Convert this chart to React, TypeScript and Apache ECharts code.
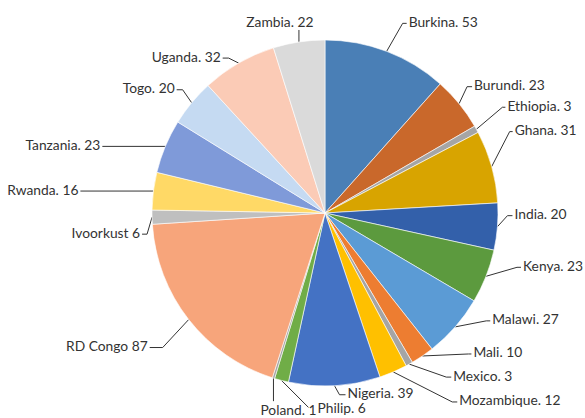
import React, { useEffect, useRef } from "react";
import * as echarts from "echarts";

const countries = [
  "Burkina", "Burundi", "Ethiopia", "Ghana", "India", "Kenya", "Malawi", "Mali",
  "Mexico", "Mozambique", "Nigeria", "Philip.", "Poland", "RD Congo", "Ivoorkust",
  "Rwanda", "Tanzania", "Togo", "Uganda", "Zambia",
];
const values = [53, 23, 3, 31, 20, 23, 27, 10, 3, 12, 39, 6, 1, 87, 6, 16, 23, 20, 32, 22];
const labels = [
  "Burkina. 53", "Burundi. 23", "Ethiopia. 3", "Ghana. 31", "India. 20", "Kenya. 23",
  "Malawi. 27", "Mali. 10", "Mexico. 3", "Mozambique. 12", "Nigeria. 39", "Philip. 6",
  "Poland. 1", "RD Congo 87", "Ivoorkust 6", "Rwanda. 16", "Tanzania. 23", "Togo. 20",
  "Uganda. 32", "Zambia. 22",
];
const colors = [
  "#4a7fb6", "#c9682b", "#a5a5a5", "#d8a400", "#3360aa", "#5c9a3e", "#5b9bd5", "#ed7d31",
  "#a5a5a5", "#ffc000", "#4472c4", "#70ad47", "#a5a5a5", "#f7a57b", "#bfbfbf",
  "#ffd966", "#7f9ad9", "#c5daf2", "#fbcbb6", "#dadada",
];

// leader line styling: offset of the elbow from the slice edge [dx, dy], then horizontal length
const leaderStyle: Record<string, [number, number, number]> = {
  Burkina: [16, -28, 4],
  Burundi: [8, -17, 5],
  Ethiopia: [26, -22, 3],
  Ghana: [18, -35, 3],
  India: [10, -11, 5],
  Kenya: [31, -9, 4],
  Malawi: [31, -6, 4],
  Mali: [46, -2, 3],
  Mexico: [37, 13, 5],
  Mozambique: [59, 30, 5],
  Nigeria: [5, 9, 6],
  "Philip.": [27, 27, 0],
  Poland: [0, 23, 0],
  "RD Congo": [-26, 28, 13],
  Ivoorkust: [-5, 17, 5],
  Rwanda: [0, 0, 73],
  Tanzania: [0, 0, 63],
  Togo: [-9, -13, 6],
  Uganda: [-10, -5, 6],
  Zambia: [0, -12, 0],
};

export default function App() {
  const ref = useRef<HTMLDivElement>(null);
  useEffect(() => {
    if (!ref.current) return;
    const chart = echarts.init(ref.current, undefined, { renderer: "svg" });
    const cx = 325;
    chart.setOption({
      animation: false,
      backgroundColor: "#ffffff",
      series: [
        {
          type: "pie",
          center: [cx, 213],
          radius: [0, 173],
          startAngle: 90,
          clockwise: true,
          avoidLabelOverlap: false,
          data: countries.map((c, i) => ({
            name: c,
            value: values[i],
            itemStyle: { color: colors[i] },
            label: { formatter: labels[i] },
          })),
          itemStyle: { borderColor: "#ffffff", borderWidth: 0.6 },
          label: {
            show: true,
            position: "outside",
            fontFamily: "Lato",
            fontSize: 13.8,
            color: "#333333",
          },
          labelLine: {
            show: true,
            length: 10,
            length2: 5,
            lineStyle: { color: "#333333", width: 1 },
          },
          labelLayout: (params: any) => {
            const pts = params.labelLinePoints;
            if (!pts || pts.length < 1) return {};
            const name = countries[params.dataIndex];
            const [dx, dy, h] = leaderStyle[name];
            const p0 = pts[0];
            const elbow = [p0[0] + dx, p0[1] + dy];
            if (name === "Zambia") {
              return {
                x: elbow[0] - 19,
                y: elbow[1] - 1,
                align: "center",
                verticalAlign: "bottom",
                labelLinePoints: [p0, elbow, elbow],
              };
            }
            if (name === "Poland") {
              return {
                x: elbow[0] + 15,
                y: elbow[1] + 1,
                align: "center",
                verticalAlign: "top",
                labelLinePoints: [p0, elbow, elbow],
              };
            }
            if (name === "Philip.") {
              return {
                x: elbow[0] + 9,
                y: elbow[1],
                align: "left",
                verticalAlign: "middle",
                labelLinePoints: [p0, elbow, elbow],
              };
            }
            const side = p0[0] >= cx ? 1 : -1;
            const end = [elbow[0] + side * h, elbow[1]];
            return {
              x: end[0] + side * 2,
              y: elbow[1] - 2,
              align: side > 0 ? "left" : "right",
              verticalAlign: "middle",
              labelLinePoints: [p0, elbow, end],
            };
          },
        },
      ],
    });
    return () => chart.dispose();
  }, []);
  return (
    <div
      ref={ref}
      style={{ position: "fixed", left: 0, top: 0, width: 585, height: 418 }}
    />
  );
}
